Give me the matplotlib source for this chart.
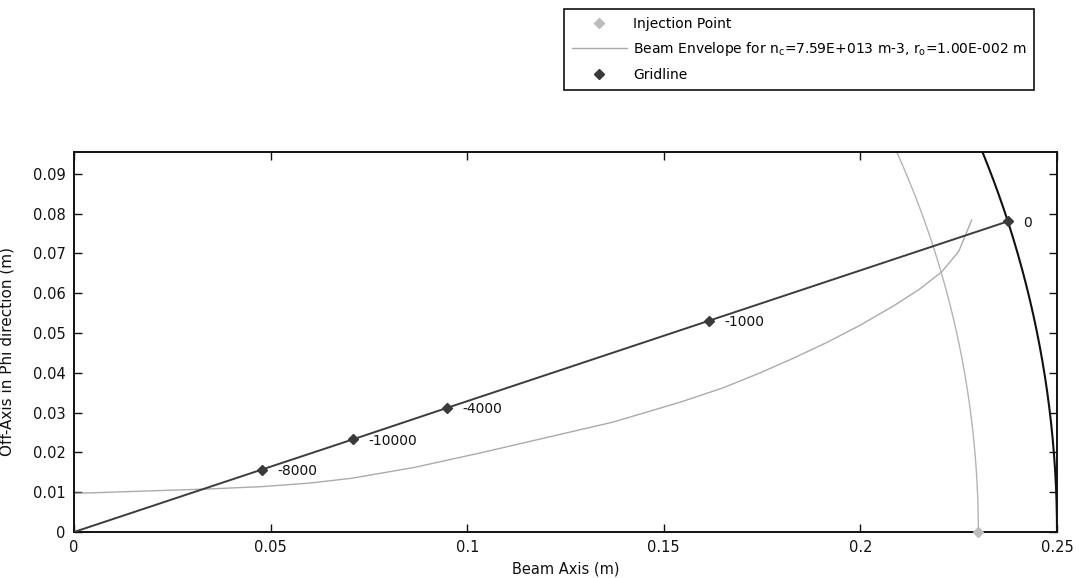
import numpy as np
import matplotlib
matplotlib.use("Agg")
import matplotlib.pyplot as plt

# ---- data ----
xticks = [0, 0.05, 0.1, 0.15, 0.2, 0.25]
xtick_labels = ['0', '0.05', '0.1', '0.15', '0.2', '0.25']
yticks = [0, 0.01, 0.02, 0.03, 0.04, 0.05, 0.06, 0.07, 0.08, 0.09]
ytick_labels = ['0', '0.01', '0.02', '0.03', '0.04', '0.05', '0.06', '0.07', '0.08', '0.09']

envelope_x = [0.0, 0.0215, 0.0338, 0.0478, 0.0600, 0.0706, 0.0864, 0.1039, 0.1187,
              0.1370, 0.1541, 0.1650, 0.1745, 0.1830, 0.1914, 0.2000, 0.2084,
              0.2150, 0.2207, 0.2250, 0.2283]
envelope_y = [0.0097, 0.0104, 0.0108, 0.0114, 0.0123, 0.0135, 0.0162, 0.0200, 0.0234,
              0.0276, 0.0326, 0.0362, 0.0400, 0.0437, 0.0476, 0.0520, 0.0568,
              0.0610, 0.0654, 0.0705, 0.0784]

gridline_x = [0.0478, 0.0710, 0.0949, 0.1615, 0.2376]
gridline_y = [0.0157, 0.0233, 0.0312, 0.0531, 0.0781]
gridline_labels = ['-8000', '-10000', '-4000', '-1000', '0']

injection_x = [0.23]
injection_y = [0.0]

outer_radius = 0.25      # dark gridline arc
injection_radius = 0.23  # light arc through injection point

xlim = (0, 0.25)
ylim = (0, 0.0955)

# ---- styling ----
plt.rcParams['font.family'] = ['DejaVu Sans']
plt.rcParams['mathtext.fontset'] = 'custom'
plt.rcParams['mathtext.rm'] = 'DejaVu Sans'

fig = plt.figure(figsize=(10.79, 5.78), dpi=100)
ax = fig.add_axes([74/1079, 1-532/578, (1057-74)/1079, (532-152)/578])

light = '#ababab'
dark = '#3c3c3c'

theta = np.linspace(0, np.pi/2, 800)
# light arc (injection radius)
ax.plot(injection_radius*np.cos(theta), injection_radius*np.sin(theta),
        color='#b4b4b4', lw=1.0, zorder=2)
# dark outer arc
ax.plot(outer_radius*np.cos(theta), outer_radius*np.sin(theta),
        color='#111111', lw=1.5, zorder=3)

# beam envelope
env, = ax.plot(envelope_x, envelope_y, color=light, lw=1.0, zorder=2,
               label=r'Beam Envelope for n$_{\rm c}$=7.59E+013 m-3, r$_{\rm o}$=1.00E-002 m')

# radial gridline
ax.plot([0] + gridline_x, [0] + gridline_y, color=dark, lw=1.4, zorder=3)
grid_pts, = ax.plot(gridline_x, gridline_y, ls='none', marker='D', ms=5,
                    color='#3a3a3a', zorder=4, label='Gridline')
for gx, gy, lab in zip(gridline_x, gridline_y, gridline_labels):
    ax.annotate(lab, (gx, gy), xytext=(11, -1), textcoords='offset points',
                va='center', ha='left', fontsize=10, color='#111111')

inj, = ax.plot(injection_x, injection_y, ls='none', marker='D', ms=5,
               color='#bdbdbd', zorder=5, clip_on=False, label='Injection Point')

ax.set_xlim(*xlim)
ax.set_ylim(*ylim)
ax.set_xticks(xticks)
ax.set_xticklabels(xtick_labels)
ax.set_yticks(yticks)
ax.set_yticklabels(ytick_labels)
ax.tick_params(direction='in', length=6, width=1, top=True, right=True,
               labelsize=10.5, pad=6, colors='#111111')
for s in ax.spines.values():
    s.set_linewidth(1.4)
    s.set_color('#111111')

ax.set_xlabel('Beam Axis (m)', fontsize=10.5, color='#111111')
ax.set_ylabel('Off-Axis in Phi direction (m)', fontsize=11, color='#111111')
ax.xaxis.set_label_coords(0.5, (532-561)/380)
ax.yaxis.set_label_coords((15-74)/983, (532-352)/380)

leg = fig.legend(handles=[inj, env, grid_pts],
                 loc='upper left', bbox_to_anchor=(564/1079, 1-9/578),
                 fontsize=10, frameon=True, fancybox=False, framealpha=1,
                 edgecolor='#111111', handlelength=4.0, handletextpad=0.4,
                 borderpad=0.55, labelspacing=0.7, borderaxespad=0)
leg.get_frame().set_linewidth(1.2)

fig.savefig('out.png', dpi=100)
